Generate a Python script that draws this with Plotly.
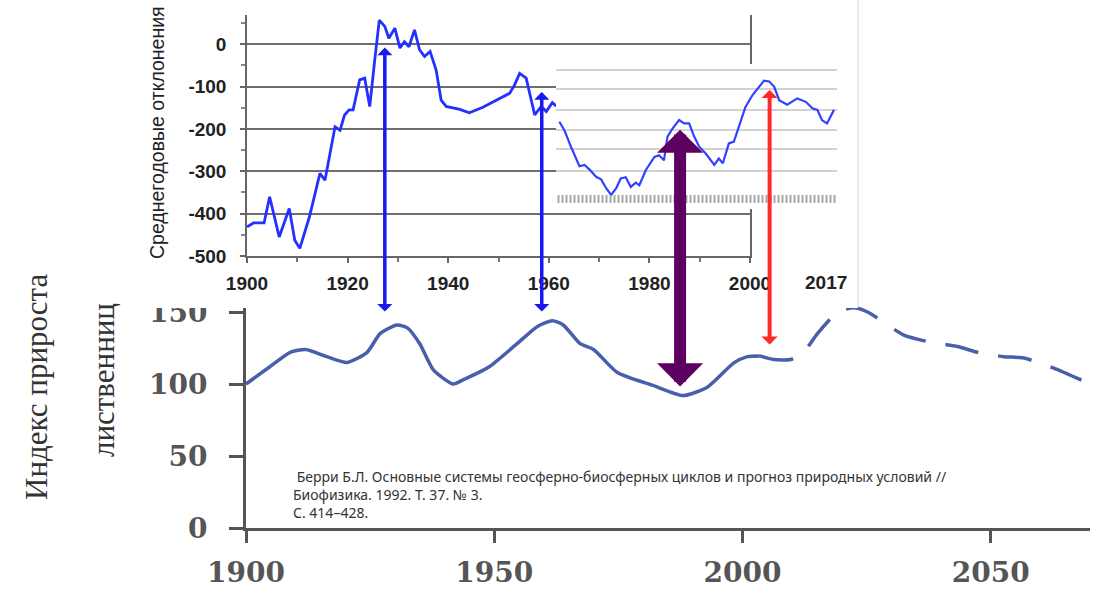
import plotly.graph_objects as go

W, H = 1101, 590

# ---------------- data ----------------
# Upper chart: mean annual deviations, 1900-1961
upper_years = [1900.0, 1901.3, 1902.2, 1903.4, 1904.5, 1906.4, 1908.4, 1909.5, 1910.5,
               1912.4, 1914.5, 1915.5, 1917.5, 1918.5, 1919.4, 1920.3, 1921.1, 1922.4,
               1923.4, 1924.4, 1925.4, 1926.3, 1927.4, 1928.2, 1929.4, 1930.4, 1931.3,
               1932.2, 1933.3, 1934.3, 1935.3, 1936.4, 1937.6, 1938.6, 1939.6, 1942.3,
               1944.2, 1946.9, 1952.2, 1953.2, 1954.2, 1955.5, 1957.2, 1958.5, 1959.5,
               1960.7, 1961.5]
upper_vals = [-431, -422, -422, -422, -360, -455, -388, -463, -482,
              -408, -305, -321, -195, -203, -167, -155, -155, -84,
              -80, -147, -37, 57, 42, 14, 38, -9, 6,
              -6, 34, -13, -29, -17, -61, -132, -147, -154,
              -162, -149, -116, -96, -69, -80, -167, -147, -159,
              -138, -146]

# Inset (pasted) series 1962-2017, read in the upper chart's units
inset_years = [1962.1, 1963.1, 1964.4, 1966.1, 1967.1, 1968.1, 1969.4, 1970.4, 1971.4,
               1972.4, 1973.4, 1974.3, 1975.3, 1976.3, 1977.3, 1978.0, 1979.3, 1981.0,
               1981.9, 1982.9, 1983.6, 1984.6, 1985.9, 1986.9, 1987.9, 1988.9, 1989.9,
               1991.2, 1992.9, 1993.8, 1994.6, 1995.8, 1996.8, 1997.8, 1999.1, 2000.5,
               2001.8, 2002.8, 2003.8, 2004.8, 2005.8, 2007.4, 2009.4, 2011.1, 2012.4,
               2013.4, 2014.3, 2015.3, 2016.7]
inset_vals = [-183, -203, -242, -288, -285, -296, -313, -319, -340,
              -356, -340, -317, -314, -337, -327, -333, -297, -266,
              -262, -274, -218, -199, -179, -187, -187, -218, -242,
              -258, -285, -270, -281, -234, -230, -195, -148, -120,
              -100, -86, -88, -100, -132, -143, -128, -136, -151,
              -155, -179, -187, -155]
inset_grid = [-61, -106, -155, -203, -248, -299]

# Lower chart: larch growth index
lower_years = [1900, 1904.8, 1908.9, 1912, 1916.3, 1920.4, 1924.4, 1927, 1930.4, 1932.5,
               1935, 1937.7, 1941.7, 1943.8, 1949, 1954.6, 1958.7, 1961.7, 1963.9,
               1967.3, 1970, 1974.8, 1982, 1988.1, 1993, 1998.2, 2001, 2003.5]
lower_vals = [100, 112, 122, 124, 119, 115, 122, 135, 141, 139,
              128, 110, 100, 103, 112, 128, 140, 144, 141,
              128, 124, 108, 99, 92, 98, 114.5, 119, 119.5]
fcst_years = [2003.5, 2006.3, 2009.7, 2012.3, 2015.1, 2019.2, 2022.4, 2025.2, 2032.5,
              2037.9, 2043.3, 2047.4, 2052.6, 2056.7, 2062.7, 2070]
fcst_vals = [119.5, 117, 117, 122, 135, 150, 153, 150, 134,
             129, 126, 122, 119, 118, 111, 100]

upper_xticks = [1900, 1920, 1940, 1960, 1980, 2000]
upper_xlabels = ["1900", "1920", "1940", "1960", "1980", "2000"]
upper_yticks = [0, -100, -200, -300, -400, -500]
upper_ylabels = ["0", "-100", "-200", "-300", "-400", "-500"]
lower_xticks = [1900, 1950, 2000, 2050]
lower_xlabels = ["1900", "1950", "2000", "2050"]
lower_yticks = [0, 50, 100, 150]
lower_ylabels = ["0", "50", "100", "150"]

# arrows: year, value on upper chart, value on lower chart
arrow_years = [1927.4, 1958.6, 1986.1, 2003.9]
arrow_top = [-8, -113, -202, -108]
arrow_bottom = [150, 150, 98, 127]

# ---------------- geometry (pixels) ----------------
UP_Y0, UP_Y1 = 15, 256          # upper plot area top/bottom
UP_RANGE = [-500, 69]
LOW_TOP, LOW_BOT = 306, 528
LOW_RANGE = [0, 150 + (312 - 306) / 1.44]
COVER_BOTTOM = 308


def pf(ypx):
    return (H - ypx) / H


def up_px(v):
    return UP_Y0 + (UP_RANGE[1] - v) * (UP_Y1 - UP_Y0) / (UP_RANGE[1] - UP_RANGE[0])


def low_px(v):
    return LOW_BOT - (v - LOW_RANGE[0]) * (LOW_BOT - LOW_TOP) / (LOW_RANGE[1] - LOW_RANGE[0])


fig = go.Figure()

# lower chart
fig.add_trace(go.Scatter(x=lower_years, y=lower_vals, mode="lines", xaxis="x", yaxis="y",
                         line=dict(color="#4a5fab", width=3.5, shape="spline", smoothing=0.6),
                         showlegend=False, hoverinfo="skip"))
fig.add_trace(go.Scatter(x=fcst_years, y=fcst_vals, mode="lines", xaxis="x", yaxis="y",
                         line=dict(color="#4a5fab", width=3.5, dash="34px,20px", shape="spline", smoothing=0.6),
                         showlegend=False, hoverinfo="skip"))
# cover (white sheet of pasted picture)
fig.add_trace(go.Scatter(x=[None], y=[None], xaxis="x2", yaxis="y2", showlegend=False, hoverinfo="skip"))
# upper chart
fig.add_trace(go.Scatter(x=upper_years, y=upper_vals, mode="lines", xaxis="x3", yaxis="y3",
                         line=dict(color="#2430ff", width=2.8),
                         showlegend=False, hoverinfo="skip"))
# inset
fig.add_trace(go.Scatter(x=inset_years, y=inset_vals, mode="lines", xaxis="x4", yaxis="y4",
                         line=dict(color="#3340ff", width=2.2),
                         showlegend=False, hoverinfo="skip"))

serif = "Liberation Serif, Times New Roman, serif"
wserif = "DejaVu Serif, serif"
sans = "Liberation Sans, Arial, sans-serif"
ink = "#555555"

x3_range = [1900, 2000]
x4_dom = [556, 837]
x4_range = [1900 + (x4_dom[0] - 247) / 5.03, 1900 + (x4_dom[1] - 247) / 5.03]

fig.update_layout(
    width=W, height=H,
    margin=dict(l=0, r=0, t=0, b=0, pad=0, autoexpand=False),
    paper_bgcolor="white", plot_bgcolor="white",
    showlegend=False,
    xaxis=dict(domain=[246 / W, 1090 / W], range=[1900, 2070], anchor="y",
               showline=True, linecolor=ink, linewidth=3, showgrid=False, zeroline=False,
               ticks="outside", ticklen=12, tickwidth=3, tickcolor=ink,
               tickvals=lower_xticks, ticktext=lower_xlabels, ticklabelstandoff=5,
               tickfont=dict(family=wserif, size=28, color="#555", weight="bold")),
    yaxis=dict(domain=[pf(LOW_BOT), pf(LOW_TOP)], range=LOW_RANGE, anchor="x",
               showline=True, linecolor=ink, linewidth=3, showgrid=False, zeroline=False,
               ticks="outside", ticklen=14, tickwidth=3, tickcolor=ink,
               tickvals=lower_yticks, ticktext=lower_ylabels, ticklabelstandoff=16,
               tickfont=dict(family=wserif, size=28, color="#555", weight="bold")),
    xaxis2=dict(domain=[140 / W, 858 / W], range=[0, 1], anchor="y2", visible=False),
    yaxis2=dict(domain=[pf(COVER_BOTTOM), 1], range=[0, 1], anchor="x2", visible=False),
    xaxis3=dict(domain=[247 / W, 750 / W], range=x3_range, anchor="y3",
                showline=True, linecolor="#666", linewidth=1.5, showgrid=False, zeroline=False,
                ticks="outside", ticklen=5, tickwidth=1.5, tickcolor="#666",
                minor=dict(ticks="outside", ticklen=4, tickwidth=1.5, tickcolor="#777",
                           tick0=1900, dtick=10),
                tickvals=upper_xticks, ticktext=upper_xlabels, ticklabelstandoff=4,
                tickfont=dict(family=sans, size=19, color="#222", weight="bold")),
    yaxis3=dict(domain=[pf(UP_Y1), pf(UP_Y0)], range=UP_RANGE, anchor="x3",
                showline=True, mirror=True, linecolor="#666", linewidth=1.5,
                showgrid=True, gridcolor="#6e6e6e", gridwidth=1.5, zeroline=False,
                ticks="outside", ticklen=5, tickwidth=1.5, tickcolor="#666",
                minor=dict(ticks="outside", ticklen=4, tickwidth=1.5, tickcolor="#888",
                           tick0=0, dtick=50, showgrid=False),
                tickvals=upper_yticks, ticktext=upper_ylabels, ticklabelstandoff=10,
                tickfont=dict(family=sans, size=19, color="#222", weight="bold")),
    xaxis4=dict(domain=[x4_dom[0] / W, x4_dom[1] / W], range=x4_range, anchor="y4",
                visible=False),
    yaxis4=dict(domain=[pf(209), pf(64)], range=[UP_RANGE[1] - (209 - UP_Y0) / 0.42355,
                                                UP_RANGE[1] - (64 - UP_Y0) / 0.42355],
                anchor="x4", showline=False, ticks="", showticklabels=False,
                showgrid=True, gridcolor="#d2d2d2", gridwidth=1.5, zeroline=False,
                tickvals=inset_grid),
)

# inset hatched band
fig.add_shape(type="line", xref="x4", yref="y4", x0=x4_range[0] + 0.3, x1=x4_range[1],
              y0=-365.5, y1=-365.5, layer="above",
              line=dict(color="#a8a8a8", width=8, dash="2px,2px"))
# right edge of pasted picture
fig.add_shape(type="line", xref="paper", yref="paper", x0=858 / W, x1=858 / W,
              y0=pf(LOW_TOP), y1=1, layer="above", line=dict(color="#d8d8d8", width=1))

# texts
fig.add_annotation(text="Среднегодовые отклонения", textangle=-90, xref="paper", yref="paper",
                   x=157 / W, y=pf(133), xanchor="center", yanchor="middle", showarrow=False,
                   font=dict(family=sans, size=19.5, color="#222"))
fig.add_annotation(text="2017", xref="x4", yref="paper", x=2017, y=pf(282), xshift=-10,
                   xanchor="center", yanchor="middle",
                   showarrow=False, font=dict(family=sans, size=19, color="#222", weight="bold"))
fig.add_annotation(text="Индекс прироста", textangle=-90, xref="paper", yref="paper",
                   x=36 / W, y=pf(387), xanchor="center", yanchor="middle", showarrow=False,
                   font=dict(family=serif, size=31, color="#333"))
fig.add_annotation(text="лиственниц", textangle=-90, xref="paper", yref="paper",
                   x=103 / W, y=pf(380), xanchor="center", yanchor="middle", showarrow=False,
                   font=dict(family=serif, size=31, color="#333"))
fig.add_annotation(text=" Берри Б.Л. Основные системы геосферно-биосферных циклов и прогноз природных условий //"
                        "<br>Биофизика. 1992. Т. 37. № 3.<br>С. 414–428.",
                   xref="paper", yref="paper", x=291 / W, y=pf(465), xanchor="left", yanchor="top",
                   align="left", showarrow=False,
                   font=dict(family="Noto Sans, Open Sans, sans-serif", size=14, color="#333"))

# arrows
arrow_colors = ["#1818f0", "#1818f0", "#5e0060", "#ff2b2b"]
arrow_widths = [3.5, 3.5, 12, 4]
arrow_sizes = [0.72, 0.72, 0.64, 0.67]
arrow_xref = ["x3", "x3", "x3", "x4"]
for yr, tv, bv, c, w, s, xr in zip(arrow_years, arrow_top, arrow_bottom, arrow_colors,
                                   arrow_widths, arrow_sizes, arrow_xref):
    ytop = up_px(tv)
    ybot = low_px(bv)
    fig.add_annotation(text="", xref=xr, yref="paper", x=yr, y=pf(ytop),
                       axref="pixel", ayref="pixel", ax=0, ay=ybot - ytop,
                       showarrow=True, arrowside="end+start",
                       arrowhead=1, startarrowhead=1, arrowsize=s, startarrowsize=s,
                       arrowwidth=w, arrowcolor=c, borderpad=0, font=dict(size=1))

fig.write_html("out.html", config={"displayModeBar": False},
               post_script="document.body.style.margin='0';document.body.style.overflow='hidden';")
